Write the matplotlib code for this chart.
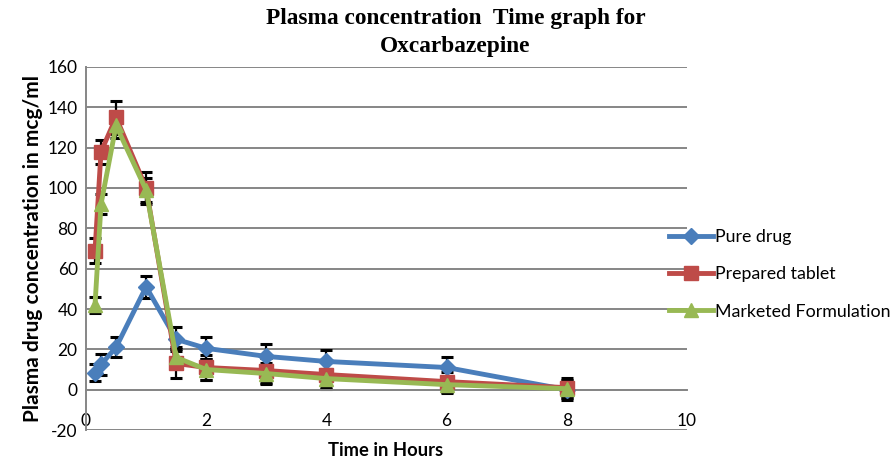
import matplotlib
matplotlib.use("Agg")
import matplotlib.pyplot as plt

# Sampling times (hours)
time_h = [0.15, 0.25, 0.5, 1, 1.5, 2, 3, 4, 6, 8]

# Mean plasma concentrations (mcg/ml)
pure_drug = [8.5, 12.5, 21, 51, 25, 20.5, 16.5, 14, 11, 0]
prepared_tablet = [69, 118, 135, 100, 13, 11, 9.5, 7.5, 4, 1]
marketed_formulation = [42, 92, 131, 99, 16, 10, 8, 5.5, 2.5, 0.5]

# Standard deviations
pure_sd = [4, 5, 5, 5.5, 6, 5.5, 6, 5.5, 5, 5]
prepared_sd = [6, 6, 8, 8, 7, 6, 6, 6, 5, 5]
marketed_sd = [4, 5, 6, 6, 5, 5, 5, 5, 4, 4]

series_names = ["Pure drug", "Prepared tablet", "Marketed Formulation"]
x_ticks = [0, 2, 4, 6, 8, 10]
y_ticks = [-20, 0, 20, 40, 60, 80, 100, 120, 140, 160]

colors = ["#4A7EBB", "#BE4B48", "#98B954"]
markers = ["D", "s", "^"]
msizes = [8, 10, 10]

fig = plt.figure(figsize=(8.93, 4.61), dpi=100)
ax = fig.add_axes([0.0963, 0.0672, 0.673, 0.7875])

grid_c = "#868686"
for yv in y_ticks:
    ax.axhline(yv, color=grid_c, lw=1.4, zorder=0)

for vals, sd, name, c, m, ms in zip(
    [pure_drug, prepared_tablet, marketed_formulation],
    [pure_sd, prepared_sd, marketed_sd],
    series_names, colors, markers, msizes,
):
    ax.errorbar(time_h, vals, yerr=sd, fmt="none", ecolor="black",
                elinewidth=1.6, capsize=4, capthick=2.2, zorder=2)
    ax.plot(time_h, vals, color=c, lw=3.5, marker=m, ms=ms,
            markeredgecolor=c, label=name, zorder=3)

ax.set_xlim(0, 10)
ax.set_ylim(-20, 160)
for s in ["top", "right"]:
    ax.spines[s].set_visible(False)
ax.spines["left"].set_color(grid_c)
ax.spines["left"].set_linewidth(1.4)
ax.spines["bottom"].set_position(("data", 0))
ax.spines["bottom"].set_color(grid_c)
ax.spines["bottom"].set_linewidth(1.4)

tick_font = dict(family="Lato", size=12.5)
ax.set_xticks(x_ticks)
ax.set_xticklabels([str(t) for t in x_ticks], **tick_font)
ax.set_yticks(y_ticks)
ax.set_yticklabels([str(t) for t in y_ticks], **tick_font)
ax.tick_params(axis="x", length=0, pad=17, colors="black")
ax.tick_params(axis="y", length=0, pad=6, colors="black")

fig.text(0.432, 0.005, "Time in Hours", ha="center", va="bottom",
         family="Lato", weight="bold", size=13.2)
ax.set_ylabel("Plasma drug concentration in mcg/ml", family="Lato",
              weight="bold", size=15, labelpad=3)

fig.text(0.51, 0.982, "Plasma concentration  Time graph for\nOxcarbazepine",
         ha="center", va="top", family="Liberation Serif", weight="bold",
         size=16.8, linespacing=1.45)

leg = fig.legend(loc="center left", bbox_to_anchor=(0.731, 0.405), frameon=False,
                 prop=dict(family="Lato", size=12.8), handlelength=2.5,
                 handletextpad=0.1, labelspacing=1.2)

fig.savefig("out.png", dpi=100)
